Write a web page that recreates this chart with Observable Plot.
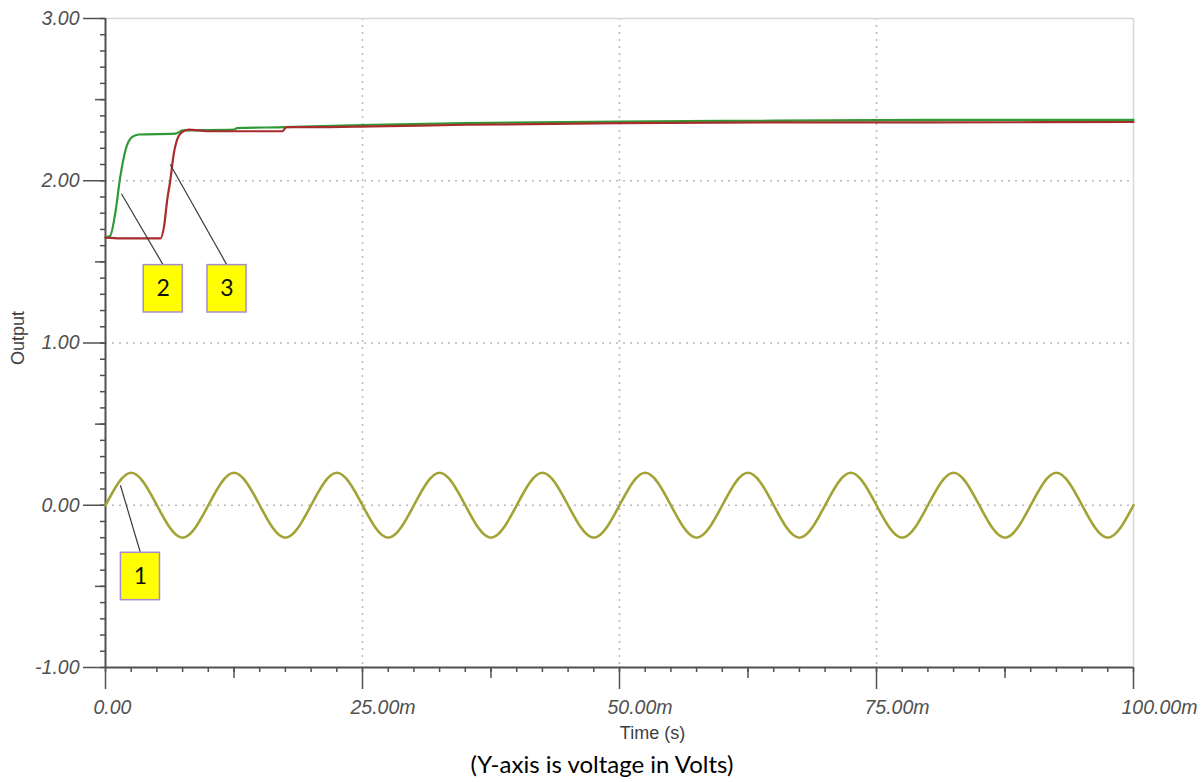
<!DOCTYPE html>
<html><head><meta charset="utf-8">
<script src="https://cdn.jsdelivr.net/npm/d3@7"></script>
<script src="https://cdn.jsdelivr.net/npm/@observablehq/plot@0.6"></script>
<style>
body{margin:0;background:#fff;}
#caption{font-family:Lato,"Open Sans",sans-serif;font-size:24px;text-align:center;height:37px;line-height:37px;color:#000;}
</style></head><body>
<div id="chart"></div>
<div id="caption">(Y-axis is voltage in Volts)</div>
<script>
// ---- data (time in ms, voltage in V) ----
const timeGreen = [0, 0.45, 0.95, 1.45, 1.95, 2.6, 3.25, 6.8, 7.5, 12.5, 12.8, 17.5, 26, 35, 50, 65, 80, 100];
const voltGreen = [1.65, 1.66, 1.80, 2.03, 2.19, 2.27, 2.285, 2.29, 2.31, 2.315, 2.325, 2.33, 2.345, 2.355, 2.365, 2.37, 2.375, 2.375];

const timeRed = [0, 1.5, 5.35, 5.7, 6.0, 6.3, 6.65, 6.95, 7.45, 8.1, 9.9, 17.2, 17.6, 20, 26, 35, 50, 65, 80, 100];
const voltRed = [1.65, 1.645, 1.645, 1.72, 1.88, 2.00, 2.17, 2.25, 2.30, 2.315, 2.305, 2.305, 2.33, 2.33, 2.335, 2.345, 2.355, 2.36, 2.36, 2.362];

const timeSine = [0, 2.5, 5, 7.5, 10, 12.5, 15, 17.5, 20, 22.5, 25, 27.5, 30, 32.5, 35, 37.5, 40, 42.5, 45, 47.5, 50,
  52.5, 55, 57.5, 60, 62.5, 65, 67.5, 70, 72.5, 75, 77.5, 80, 82.5, 85, 87.5, 90, 92.5, 95, 97.5, 100];
const voltSine = [0, 0.2, 0, -0.2, 0, 0.2, 0, -0.2, 0, 0.2, 0, -0.2, 0, 0.2, 0, -0.2, 0, 0.2, 0, -0.2, 0,
  0.2, 0, -0.2, 0, 0.2, 0, -0.2, 0, 0.2, 0, -0.2, 0, 0.2, 0, -0.2, 0, 0.2, 0, -0.2, 0];

// annotation markers
const markerNames = ["1", "2", "3"];
const markerAnchorT = [1.45, 1.55, 6.3];
const markerAnchorV = [0.123, 1.92, 2.10];
const markerBoxT = [3.4, 5.62, 11.82];
const markerBoxTopV = [-0.293, 1.48, 1.48];

// ticks
const yMajorTicks = [-1, 0, 1, 2, 3];
const yTickLabels = ["-1.00", "0.00", "1.00", "2.00", "3.00"];
const yMidTicks = [-0.5, 0.5, 1.5, 2.5];
const yMinorTicks = d3.range(-10, 31).map(i => i / 10);
const xMajorTicks = [0, 25, 50, 75, 100];
const xTickLabels = ["0.00", "25.00m", "50.00m", "75.00m", "100.00m"];
const xMidTicks = [12.5, 37.5, 62.5, 87.5];
const xMinorTicks = d3.range(0, 41).map(i => i * 2.5);

// ---- build tables ----
const green = timeGreen.map((t, i) => ({t, v: voltGreen[i]}));
const red = timeRed.map((t, i) => ({t, v: voltRed[i]}));
const sine = timeSine.map((t, i) => ({t, v: voltSine[i]}));
const markers = markerNames.map((name, i) => ({name, at: markerAnchorT[i], av: markerAnchorV[i], bt: markerBoxT[i], btop: markerBoxTopV[i]}));

const BOX_W = 3.8;   // ms
const BOX_H = 0.292; // V
const AX = "#505050";
const tickFont = {fontFamily: "'Liberation Sans', Arial, sans-serif", fontStyle: "italic", fontSize: 19.5};

const chart = Plot.plot({
  width: 1204,
  height: 745,
  marginLeft: 105,
  marginRight: 71,
  marginTop: 18,
  marginBottom: 78,
  x: {domain: [0, 100]},
  y: {domain: [-1, 3]},
  style: {background: "#fff", overflow: "hidden"},
  marks: [
    Plot.gridX([25, 50, 75], {stroke: "#b8b8b8", strokeOpacity: 1, strokeDasharray: "2,5", strokeWidth: 1.5}),
    Plot.gridY([0, 1, 2], {stroke: "#b8b8b8", strokeOpacity: 1, strokeDasharray: "2,5", strokeWidth: 1.5}),
    Plot.ruleY([3], {stroke: "#d8d8d8", strokeWidth: 1.5}),
    Plot.ruleX([100], {stroke: "#d8d8d8", strokeWidth: 1.5}),
    // y axis ticks
    Plot.axisY(yMinorTicks, {tickSize: 5, tickFormat: () => "", stroke: AX, strokeWidth: 1.5, label: null}),
    Plot.axisY(yMidTicks, {tickSize: 10, tickFormat: () => "", stroke: AX, strokeWidth: 1.5, label: null}),
    Plot.axisY(yMajorTicks, {tickSize: 22, tickPadding: 4, tickFormat: d => yTickLabels[yMajorTicks.indexOf(d)], stroke: AX, strokeWidth: 1.5, fill: AX, label: null, ...tickFont}),
    // x axis ticks
    Plot.axisX(xMinorTicks, {tickSize: 5, tickFormat: () => "", stroke: AX, strokeWidth: 1.5, label: null}),
    Plot.axisX(xMidTicks, {tickSize: 11, tickFormat: () => "", stroke: AX, strokeWidth: 1.5, label: null}),
    Plot.axisX(xMajorTicks, {tickSize: 22, tickFormat: () => "", stroke: AX, strokeWidth: 1.5, label: null}),
    Plot.axisX(xMajorTicks, {tickSize: 0, tickPadding: 33, textAnchor: "start", dx: -12, tickFormat: d => xTickLabels[xMajorTicks.indexOf(d)], fill: AX, label: null, ...tickFont}),
    // axis lines
    Plot.ruleX([0], {stroke: AX, strokeWidth: 2}),
    Plot.ruleY([-1], {stroke: AX, strokeWidth: 2}),
    // axis titles
    Plot.text(["Output"], {frameAnchor: "left", textAnchor: "middle", lineAnchor: "middle", rotate: -90, dx: -87, dy: -5, fontFamily: "'Liberation Sans', Arial, sans-serif", fontSize: 18, fill: "#404040"}),
    Plot.text(["Time (s)"], {frameAnchor: "bottom", textAnchor: "middle", lineAnchor: "middle", dx: 33, dy: 66, fontFamily: "'Liberation Sans', Arial, sans-serif", fontSize: 18, fill: "#404040"}),
    // series
    Plot.line(sine, {x: "t", y: "v", stroke: "#a3a335", strokeWidth: 2.6, curve: "natural"}),
    Plot.line(green, {x: "t", y: "v", stroke: "#2f9a35", strokeWidth: 2.2, curve: "monotone-x"}),
    Plot.line(red, {x: "t", y: "v", stroke: "#a82c2c", strokeWidth: 2.2, curve: "monotone-x"}),
    // markers
    Plot.link(markers, {x1: "at", y1: "av", x2: "bt", y2: "btop", stroke: "#3a3a3a", strokeWidth: 1.2}),
    Plot.rect(markers, {x1: d => d.bt - BOX_W / 2, x2: d => d.bt + BOX_W / 2, y1: "btop", y2: d => d.btop - BOX_H, fill: "#ffff00", stroke: "#a88ad2", strokeWidth: 1.5}),
    Plot.text(markers, {x: "bt", y: d => d.btop - BOX_H / 2, text: "name", fontSize: 23, fontFamily: "Lato, 'Open Sans', sans-serif", fill: "#111"})
  ]
});
document.getElementById("chart").appendChild(chart);
</script>
</body></html>
